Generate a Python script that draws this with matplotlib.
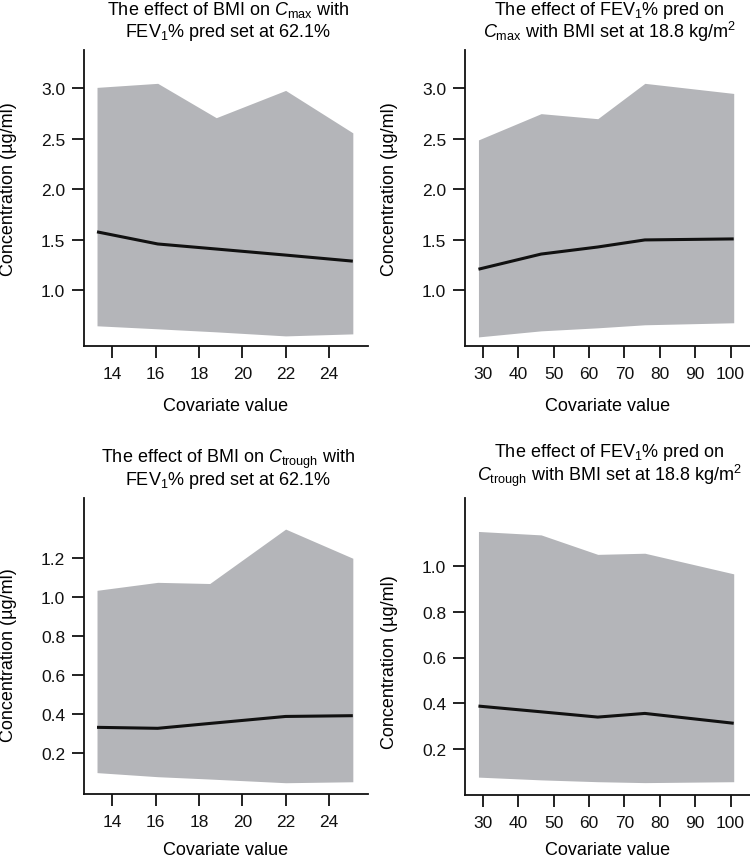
import matplotlib
matplotlib.use("Agg")
import matplotlib.pyplot as plt

plt.rcParams['font.family'] = ['Liberation Sans', 'DejaVu Sans']
plt.rcParams['mathtext.fontset'] = 'custom'
plt.rcParams['mathtext.rm'] = 'Liberation Sans'
plt.rcParams['mathtext.it'] = 'Liberation Sans:italic'
plt.rcParams['mathtext.bf'] = 'Liberation Sans:bold'

# ---- data ----
bmi_x_cmax = [13.3, 16.1, 18.8, 22.0, 25.1]
bmi_cmax_median = [1.58, 1.46, 1.41, 1.35, 1.29]
bmi_cmax_upper = [3.01, 3.05, 2.71, 2.98, 2.56]
bmi_cmax_lower = [0.65, 0.62, 0.59, 0.55, 0.57]

fev_x_cmax = [28.8, 46.5, 62.5, 75.8, 100.9]
fev_cmax_median = [1.21, 1.36, 1.43, 1.50, 1.51]
fev_cmax_upper = [2.49, 2.75, 2.70, 3.05, 2.95]
fev_cmax_lower = [0.54, 0.60, 0.63, 0.66, 0.68]

bmi_x_ctrough = [13.3, 16.1, 18.5, 22.0, 25.1]
bmi_ctrough_median = [0.33, 0.325, 0.35, 0.386, 0.39]
bmi_ctrough_upper = [1.035, 1.076, 1.07, 1.35, 1.20]
bmi_ctrough_lower = [0.097, 0.076, 0.064, 0.045, 0.05]

fev_x_ctrough = [28.8, 46.5, 62.5, 75.8, 100.9]
fev_ctrough_median = [0.388, 0.363, 0.34, 0.356, 0.313]
fev_ctrough_upper = [1.15, 1.135, 1.05, 1.055, 0.965]
fev_ctrough_lower = [0.078, 0.066, 0.058, 0.054, 0.058]

title_lines = [
    ("The effect of BMI on $\\mathit{C}_{\\mathrm{max}}$ with", "FEV$_1$% pred set at 62.1%"),
    ("The effect of FEV$_1$% pred on", "$\\mathit{C}_{\\mathrm{max}}$ with BMI set at 18.8 kg/m$^2$"),
    ("The effect of BMI on $\\mathit{C}_{\\mathrm{trough}}$ with", "FEV$_1$% pred set at 62.1%"),
    ("The effect of FEV$_1$% pred on", "$\\mathit{C}_{\\mathrm{trough}}$ with BMI set at 18.8 kg/m$^2$"),
]
x_label = "Covariate value"
y_label = "Concentration (µg/ml)"
bmi_ticks = [14, 16, 18, 20, 22, 24]
fev_ticks = [30, 40, 50, 60, 70, 80, 90, 100]
cmax_yticks = [1.0, 1.5, 2.0, 2.5, 3.0]
ctrough_bmi_yticks = [0.2, 0.4, 0.6, 0.8, 1.0, 1.2]
ctrough_fev_yticks = [0.2, 0.4, 0.6, 0.8, 1.0]

W, H = 750, 862
fig = plt.figure(figsize=(7.5, 8.62), dpi=100)

def px_axes(l, t, r, b):
    return fig.add_axes([l / W, 1 - b / H, (r - l) / W, (b - t) / H])

panels = [
    dict(box=(84, 51, 368, 347), x=bmi_x_cmax, med=bmi_cmax_median, up=bmi_cmax_upper,
         lo=bmi_cmax_lower, xlim=(12.7, 25.8), ylim=(0.45, 3.38), xt=bmi_ticks,
         yt=cmax_yticks, tb=(15, 37), ylab_y=0.534, xlab_off=51),
    dict(box=(465, 51, 750, 347), x=fev_x_cmax, med=fev_cmax_median, up=fev_cmax_upper,
         lo=fev_cmax_lower, xlim=(25.0, 105.5), ylim=(0.45, 3.38), xt=fev_ticks,
         yt=cmax_yticks, tb=(15, 38), ylab_y=0.534, xlab_off=51),
    dict(box=(84, 499, 368, 795), x=bmi_x_ctrough, med=bmi_ctrough_median, up=bmi_ctrough_upper,
         lo=bmi_ctrough_lower, xlim=(12.7, 25.8), ylim=(-0.013, 1.51), xt=bmi_ticks,
         yt=ctrough_bmi_yticks, tb=(463, 485), ylab_y=0.473, xlab_off=47),
    dict(box=(465, 499, 750, 796), x=fev_x_ctrough, med=fev_ctrough_median, up=fev_ctrough_upper,
         lo=fev_ctrough_lower, xlim=(25.0, 105.5), ylim=(0.0, 1.296), xt=fev_ticks,
         yt=ctrough_fev_yticks, tb=(457, 481), ylab_y=0.45, xlab_off=46),
]

for p, (l1, l2) in zip(panels, title_lines):
    l, t, r, b = p["box"]
    ax = px_axes(l, t, r, b)
    ax.fill_between(p["x"], p["lo"], p["up"], color="#b4b5b9", linewidth=0)
    ax.plot(p["x"], p["med"], color="#111111", linewidth=2.2, solid_capstyle="butt")
    ax.set_xlim(*p["xlim"])
    ax.set_ylim(*p["ylim"])
    ax.set_xticks(p["xt"])
    ax.set_yticks(p["yt"])
    ax.set_yticklabels(["%.1f" % v for v in p["yt"]])
    for s in ["top", "right"]:
        ax.spines[s].set_visible(False)
    for s in ["left", "bottom"]:
        ax.spines[s].set_linewidth(1.3)
        ax.spines[s].set_color("#111111")
    ax.tick_params(direction="out", length=8.5, width=1.3, labelsize=12.5,
                   colors="#111111")
    ax.tick_params(axis="y", pad=5)
    ax.tick_params(axis="x", pad=6)
    wpx, hpx = r - l, b - t
    ax.set_xlabel(x_label, fontsize=13)
    ax.xaxis.set_label_coords(0.5, -p["xlab_off"] / hpx)
    ax.set_ylabel(y_label, fontsize=13)
    ax.yaxis.set_label_coords(-67 / wpx, p["ylab_y"])
    cx = (l + r) / 2 / W + 2 / W
    fig.text(cx, 1 - p["tb"][0] / H, l1, ha="center", va="baseline", fontsize=13)
    fig.text(cx, 1 - p["tb"][1] / H, l2, ha="center", va="baseline", fontsize=13)

fig.savefig("out.png", dpi=100)
